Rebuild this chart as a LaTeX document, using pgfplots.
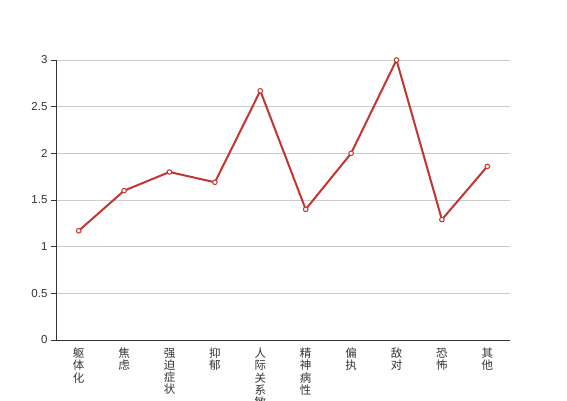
\documentclass[border=0pt]{standalone}
\usepackage{pgfplots}
\pgfplotsset{compat=1.18}
\usepackage{fontspec}
\setmainfont{Liberation Sans}
\newfontfamily\cjk{Noto Sans CJK SC}
\definecolor{ered}{HTML}{C23531}
\definecolor{etxt}{HTML}{333333}
\definecolor{egrid}{HTML}{CCCCCC}
\begin{document}
\begin{tikzpicture}[x=1pt,y=1pt]
\path[use as bounding box] (0,0) rectangle (567,400);
\clip (0,0) rectangle (567,400);
\begin{axis}[
  at={(56pt,60pt)}, anchor=south west,
  scale only axis, width=454pt, height=280pt,
  xmin=-0.5, xmax=9.5, ymin=0, ymax=3,
  clip=false,
  axis x line*=bottom, axis y line*=left,
  axis line style={draw=etxt, line width=0.8pt},
  ytick={0,0.5,1,1.5,2,2.5,3},
  /pgf/number format/assume math mode=true,
  yticklabel style={font=\fontsize{11.5}{12}\selectfont, text=etxt},
  ymajorgrids,
  grid style={draw=egrid, line width=0.8pt},
  tick align=outside,
  major tick length=5pt,
  tick style={draw=etxt, line width=0.8pt},
  xtick={0,...,9},
  xticklabels={{躯\\体\\化},{焦\\虑},{强\\迫\\症\\状},{抑\\郁},{人\\际\\关\\系\\敏\\感},{精\\神\\病\\性},{偏\\执},{敌\\对},{恐\\怖},{其\\他}},
  xticklabel style={font=\cjk\fontsize{11.5}{12.2}\selectfont, text=etxt, align=center, anchor=north, yshift=0.5pt},
  x tick style={draw=none},
  extra x ticks={-0.5,0.5,1.5,2.5,3.5,4.5,5.5,6.5,7.5,8.5,9.5},
  extra x tick labels={},
  extra x tick style={grid=none, tick style={draw=etxt, line width=0.8pt}},
]
\addplot[ered, line width=2pt, mark=*, mark size=2.3pt,
  mark options={fill=white, draw=ered, line width=1pt}]
  coordinates {(0,1.17) (1,1.6) (2,1.8) (3,1.69) (4,2.67) (5,1.4) (6,2.0) (7,3.0) (8,1.29) (9,1.86)};
\end{axis}
\end{tikzpicture}
\end{document}
